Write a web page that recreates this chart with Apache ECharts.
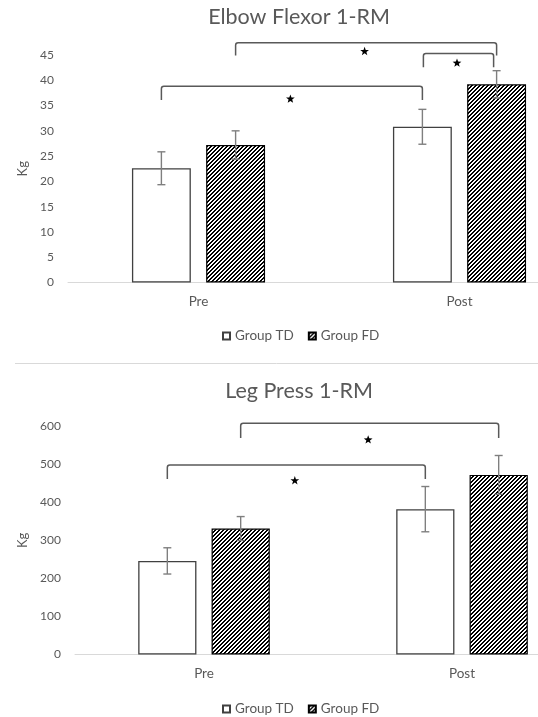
<!DOCTYPE html>
<html>
<head>
<meta charset="utf-8">
<script src="https://cdn.jsdelivr.net/npm/echarts@6/dist/echarts.min.js"></script>
<style>
  html, body { margin: 0; padding: 0; background: #fff; }
  #chart { width: 538px; height: 717px; }
</style>
</head>
<body>
<div id="chart"></div>
<script>
// ---- data ----
const categories = ['Pre', 'Post'];
const groupNames = ['Group TD', 'Group FD'];

// Elbow flexor 1-RM (kg): means and SD per group
const elbowTD = [22.6, 30.8];
const elbowTDsd = [3.25, 3.45];
const elbowFD = [27.2, 39.2];
const elbowFDsd = [2.8, 2.7];
const elbowTicks = [0, 5, 10, 15, 20, 25, 30, 35, 40, 45];

// Leg press 1-RM (kg): means and SD per group
const legTD = [246, 382];
const legTDsd = [34.5, 59.5];
const legFD = [331, 472];
const legFDsd = [31.5, 51];
const legTicks = [0, 100, 200, 300, 400, 500, 600];

// significance brackets: [fromCat, fromGroup, toCat, toGroup, barLevel, legEnd, starLevel]
const elbowBrackets = [
  [0, 0, 1, 0, 38.8, 36.1, 36.3],
  [0, 1, 1, 1, 47.4, 44.9, 45.7],
  [1, 0, 1, 1, 45.3, 42.6, 43.4]
];
const legBrackets = [
  [0, 1, 1, 1, 607.6, 569, 564],
  [0, 0, 1, 0, 498, 461, 456.8]
];

// ---- styling ----
const TEXT = '#595959';
const FONT = 'Lato, "Open Sans", sans-serif';
const CAT_GAP = 0.49;   // fraction of the band left empty
const BAR_GAP = 0.26;   // gap between the two bars, fraction of bar width

function hatchPattern() {
  const c = document.createElement('canvas');
  c.width = 4; c.height = 4;
  const ctx = c.getContext('2d');
  ctx.fillStyle = '#fff';
  ctx.fillRect(0, 0, 4, 4);
  ctx.fillStyle = '#000';
  for (let x = 0; x < 4; x++) {
    for (let y = 0; y < 4; y++) {
      const k = (x + y) % 4;
      if (k === 0 || k === 1) ctx.fillRect(x, y, 1, 1);
    }
  }
  return { image: c, repeat: 'repeat' };
}
const hatch = hatchPattern();

function barOffset(api) {
  const band = api.size([1, 0])[0];
  const bw = band * (1 - CAT_GAP) / (2 + BAR_GAP);
  return bw * (1 + BAR_GAP) / 2;
}

function errorSeries(gi, means, sds, group) {
  return {
    type: 'custom',
    xAxisIndex: gi, yAxisIndex: gi,
    z: 5,
    silent: true,
    encode: { x: 0, y: 1 },
    data: means.map((m, i) => [i, m, sds[i]]),
    renderItem: function (params, api) {
      const off = barOffset(api) * (group === 0 ? -1 : 1);
      const i = api.value(0), m = api.value(1), s = api.value(2);
      const hi = api.coord([i, m + s]);
      const lo = api.coord([i, m - s]);
      const x = hi[0] + off;
      const cap = 4;
      const st = { stroke: '#7f7f7f', lineWidth: 1.4, fill: null };
      return {
        type: 'group',
        children: [
          { type: 'line', shape: { x1: x, y1: hi[1], x2: x, y2: lo[1] }, style: st },
          { type: 'line', shape: { x1: x - cap, y1: hi[1], x2: x + cap, y2: hi[1] }, style: st },
          { type: 'line', shape: { x1: x - cap, y1: lo[1], x2: x + cap, y2: lo[1] }, style: st }
        ]
      };
    }
  };
}

function starPoints(cx, cy, R, r) {
  const pts = [];
  for (let k = 0; k < 10; k++) {
    const a = -Math.PI / 2 + k * Math.PI / 5;
    const rad = k % 2 === 0 ? R : r;
    pts.push([cx + rad * Math.cos(a), cy + rad * Math.sin(a)]);
  }
  return pts;
}

function bracketSeries(gi, brackets) {
  return {
    type: 'custom',
    xAxisIndex: gi, yAxisIndex: gi,
    z: 6,
    silent: true,
    clip: false,
    encode: { x: 0, y: 4 },
    data: brackets,
    renderItem: function (params, api) {
      const b = brackets[params.dataIndex];
      const off = barOffset(api);
      const within = b[0] === b[2];
      const xAt = (cat, grp, end) => {
        let x = api.coord([cat, 0])[0] + (grp === 0 ? -off : off);
        if (within) x += end === 0 ? 1 : -3;
        return x;
      };
      const x1 = xAt(b[0], b[1], 0);
      const x2 = xAt(b[2], b[3], 1);
      const yTop = api.coord([0, b[4]])[1];
      const yFoot = api.coord([0, b[5]])[1];
      const yStar = api.coord([0, b[6]])[1];
      const r = 2.5;
      const path = 'M' + x1 + ' ' + yFoot + ' L' + x1 + ' ' + (yTop + r) +
        ' Q' + x1 + ' ' + yTop + ' ' + (x1 + r) + ' ' + yTop +
        ' L' + (x2 - r) + ' ' + yTop +
        ' Q' + x2 + ' ' + yTop + ' ' + x2 + ' ' + (yTop + r) +
        ' L' + x2 + ' ' + yFoot;
      return {
        type: 'group',
        children: [
          { type: 'path', shape: { pathData: path }, style: { stroke: '#595959', lineWidth: 1.5, fill: null } },
          { type: 'polygon', shape: { points: starPoints((x1 + x2) / 2 - 1.5, yStar, 4.6, 1.9) }, style: { fill: '#000' } }
        ]
      };
    }
  };
}

function barSeries(gi, name, values, isHatched) {
  return {
    type: 'bar',
    name: name,
    xAxisIndex: gi, yAxisIndex: gi,
    data: values,
    barCategoryGap: (CAT_GAP * 100) + '%',
    barGap: (BAR_GAP * 100) + '%',
    itemStyle: isHatched
      ? { color: hatch, borderColor: '#000', borderWidth: 1.2 }
      : { color: '#fff', borderColor: '#404040', borderWidth: 1.3 }
  };
}

function yAxisFor(gi, ticks, gap) {
  return {
    type: 'value',
    gridIndex: gi,
    min: ticks[0],
    max: ticks[ticks.length - 1],
    interval: ticks[1] - ticks[0],
    name: 'Kg',
    nameLocation: 'middle',
    nameGap: gap,
    nameTextStyle: { color: TEXT, fontFamily: FONT, fontSize: 13 },
    axisLine: { show: false },
    axisTick: { show: false },
    splitLine: { show: false },
    axisLabel: { color: TEXT, fontFamily: FONT, fontSize: 12, margin: 14 }
  };
}

function xAxisFor(gi) {
  return {
    type: 'category',
    gridIndex: gi,
    data: categories,
    axisTick: { show: false },
    axisLine: { lineStyle: { color: '#d9d9d9', width: 1 } },
    axisLabel: { color: TEXT, fontFamily: FONT, fontSize: 13.5, margin: 12 }
  };
}

const chart = echarts.init(document.getElementById('chart'), null, { renderer: 'canvas' });

const legendBase = {
  data: groupNames, left: 222, padding: 0, itemGap: 14, itemWidth: 7, itemHeight: 7,
  icon: 'rect', selectedMode: false,
  textStyle: { color: TEXT, fontFamily: FONT, fontSize: 13.5 }
};

const titleStyle = { color: TEXT, fontFamily: FONT, fontSize: 21.5, fontWeight: 'normal' };

chart.setOption({
  animation: false,
  backgroundColor: '#fff',
  title: [
    { text: 'Elbow Flexor 1-RM', left: 299, top: 6, textAlign: 'center', padding: 0, textStyle: titleStyle },
    { text: 'Leg Press 1-RM', left: 299, top: 380, textAlign: 'center', padding: 0, textStyle: titleStyle }
  ],
  legend: [
    Object.assign({}, legendBase, { top: 329 }),
    Object.assign({}, legendBase, { top: 702 })
  ],
  // the plot areas run past the right edge of the page
  grid: [
    { left: 68, width: 522, top: 55, height: 227.5, outerBoundsMode: 'none', containLabel: false },
    { left: 75, width: 516, top: 426.2, height: 228.3, outerBoundsMode: 'none', containLabel: false }
  ],
  xAxis: [xAxisFor(0), xAxisFor(1)],
  yAxis: [yAxisFor(0, elbowTicks, 39), yAxisFor(1, legTicks, 46)],
  graphic: [
    { type: 'line', shape: { x1: 15, y1: 363.5, x2: 538, y2: 363.5 },
      style: { stroke: '#d9d9d9', lineWidth: 1 }, silent: true }
  ],
  series: [
    barSeries(0, groupNames[0], elbowTD, false),
    barSeries(0, groupNames[1], elbowFD, true),
    errorSeries(0, elbowTD, elbowTDsd, 0),
    errorSeries(0, elbowFD, elbowFDsd, 1),
    bracketSeries(0, elbowBrackets),
    barSeries(1, groupNames[0], legTD, false),
    barSeries(1, groupNames[1], legFD, true),
    errorSeries(1, legTD, legTDsd, 0),
    errorSeries(1, legFD, legFDsd, 1),
    bracketSeries(1, legBrackets)
  ]
});
</script>
</body>
</html>
